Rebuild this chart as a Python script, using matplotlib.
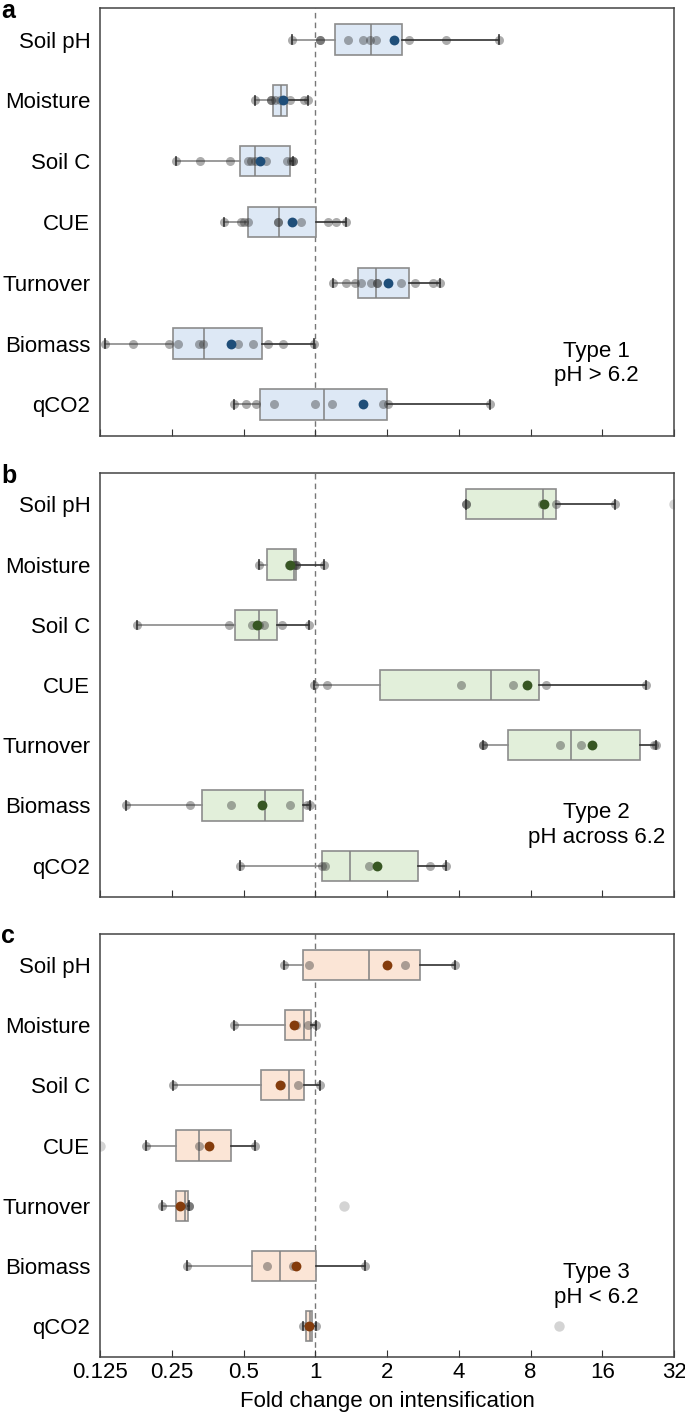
import matplotlib
matplotlib.use('Agg')
import matplotlib.pyplot as plt

plt.rcParams['font.family'] = ['Liberation Sans', 'DejaVu Sans']

cats = ['Soil pH', 'Moisture', 'Soil C', 'CUE', 'Turnover', 'Biomass', 'qCO2']
ticks = [0.125, 0.25, 0.5, 1, 2, 4, 8, 16, 32]
tick_labels = ['0.125', '0.25', '0.5', '1', '2', '4', '8', '16', '32']

# panel a - Type 1, pH > 6.2
a_points = [
    [0.80, 1.05, 1.05, 1.37, 1.58, 1.70, 1.80, 2.47, 3.54, 5.91],
    [0.56, 0.65, 0.65, 0.68, 0.71, 0.78, 0.90, 0.93],
    [0.26, 0.33, 0.44, 0.52, 0.54, 0.56, 0.62, 0.76, 0.79, 0.81, 0.81],
    [0.415, 0.49, 0.50, 0.52, 0.70, 0.70, 0.87, 1.13, 1.22, 1.35],
    [1.19, 1.35, 1.47, 1.55, 1.72, 1.81, 1.81, 2.30, 2.61, 3.12, 3.33],
    [0.131, 0.172, 0.243, 0.265, 0.324, 0.339, 0.476, 0.548, 0.636, 0.735, 0.99],
    [0.455, 0.513, 0.564, 0.674, 1.0, 1.17, 1.92, 2.02, 5.43],
]
a_mean = [2.14, 0.73, 0.587, 0.80, 2.02, 0.441, 1.585]
a_q1 = [1.216, 0.666, 0.483, 0.521, 1.517, 0.254, 0.589]
a_med = [1.716, 0.721, 0.560, 0.706, 1.806, 0.342, 1.087]
a_q3 = [2.311, 0.759, 0.781, 1.004, 2.475, 0.596, 2.0]
a_fliers = [[], [], [], [], [], [], []]

# panel b - Type 2, pH across 6.2
b_points = [
    [4.27, 4.27, 8.98, 10.28, 18.1],
    [0.578, 0.774, 0.818, 0.833, 0.833, 1.084],
    [0.178, 0.436, 0.543, 0.578, 0.610, 0.725, 0.94],
    [0.99, 1.12, 4.09, 6.75, 9.31, 24.3],
    [5.06, 5.06, 10.59, 13.08, 26.4, 27.0],
    [0.161, 0.297, 0.444, 0.785, 0.923, 0.95],
    [0.483, 1.068, 1.10, 1.687, 3.03, 3.545],
]
b_mean = [9.14, 0.78, 0.571, 7.76, 14.5, 0.595, 1.815]
b_q1 = [4.27, 0.628, 0.462, 1.87, 6.46, 0.335, 1.068]
b_med = [9.01, 0.812, 0.580, 5.44, 11.85, 0.615, 1.395]
b_q3 = [10.24, 0.827, 0.691, 8.65, 22.98, 0.889, 2.695]
b_fliers = [[32.0], [], [], [], [], [], []]

# panel c - Type 3, pH < 6.2
c_points = [
    [0.741, 0.94, 2.388, 3.87],
    [0.457, 0.833, 0.936, 1.007],
    [0.254, 0.719, 0.848, 1.049],
    [0.195, 0.326, 0.557],
    [0.227, 0.296, 0.296],
    [0.291, 0.626, 0.803, 1.621],
    [0.889, 0.94, 1.011],
]
c_mean = [1.996, 0.818, 0.712, 0.36, 0.271, 0.833, 0.94]
c_q1 = [0.889, 0.744, 0.590, 0.261, 0.260, 0.543, 0.916]
c_med = [1.675, 0.893, 0.777, 0.326, 0.285, 0.714, 0.947]
c_q3 = [2.764, 0.957, 0.899, 0.442, 0.293, 1.007, 0.968]
c_fliers = [[], [], [], [0.125], [1.325], [], [10.5]]

panels = [
    ('a', a_points, a_mean, a_q1, a_med, a_q3, a_fliers, '#dde8f5', '#1f4e79', 'Type 1\npH > 6.2'),
    ('b', b_points, b_mean, b_q1, b_med, b_q3, b_fliers, '#e2efda', '#375623', 'Type 2\npH across 6.2'),
    ('c', c_points, c_mean, c_q1, c_med, c_q3, c_fliers, '#fbe5d6', '#843c0c', 'Type 3\npH < 6.2'),
]

W, H = 685, 1421
fig = plt.figure(figsize=(W / 100, H / 100), dpi=100)
frames = [(8, 436), (473, 897), (934, 1357)]  # top, bottom in pixels
letter_y = [18, 483, 943]

for k, (letter, pts, mean, q1, med, q3, fl, fill, dark, note) in enumerate(panels):
    top, bot = frames[k]
    ax = fig.add_axes([100 / W, 1 - bot / H, 574 / W, (bot - top) / H])
    stats = []
    for i in range(len(cats)):
        stats.append(dict(med=med[i], q1=q1[i], q3=q3[i],
                          whislo=min(pts[i]), whishi=max(pts[i]), fliers=fl[i]))
    bp = ax.bxp(stats, positions=range(len(cats)), orientation='horizontal',
                widths=0.5, capwidths=0.14, patch_artist=True,
                boxprops=dict(facecolor=fill, edgecolor='#8c8c8c', linewidth=1.2),
                medianprops=dict(color='#808080', linewidth=1.1),
                capprops=dict(color='#303030', linewidth=1.2),
                flierprops=dict(marker='o', markerfacecolor='#d4d4d4',
                                markeredgecolor='none', markersize=7.5))
    for j, w in enumerate(bp['whiskers']):
        w.set_color('#8a8a8a' if j % 2 == 0 else '#303030')
        w.set_linewidth(1.2)
    for i in range(len(cats)):
        ax.scatter(pts[i], [i] * len(pts[i]), s=42, color='#303030',
                   alpha=0.4, linewidths=0, zorder=3)
        ax.scatter([mean[i]], [i], s=50, color=dark, linewidths=0, zorder=4)
    ax.axvline(1, color='#777777', lw=1, ls=(0, (4, 3)), zorder=1)
    ax.set_xscale('log', base=2)
    ax.set_xlim(0.125, 32)
    ax.set_ylim(6.52, -0.52)
    ax.set_yticks(range(len(cats)))
    ax.set_yticklabels(cats, fontsize=16)
    ax.tick_params(axis='y', length=0, pad=7)
    ax.set_xticks(ticks)
    ax.minorticks_off()
    ax.tick_params(axis='x', direction='in', length=5, color='#333333')
    if letter == 'c':
        ax.set_xticklabels(tick_labels, fontsize=16)
        ax.set_xlabel('Fold change on intensification', fontsize=16, labelpad=6)
    else:
        ax.set_xticklabels([])
    for s in ax.spines.values():
        s.set_color('#444444')
        s.set_linewidth(1.1)
    ax.text(0.865, 0.17, note, transform=ax.transAxes, ha='center', va='center',
            fontsize=16, linespacing=1.2)
    fig.text(1 / W, 1 - letter_y[k] / H, letter, fontsize=18, fontweight='bold',
             va='baseline', ha='left')

fig.savefig('out.png', dpi=100)
